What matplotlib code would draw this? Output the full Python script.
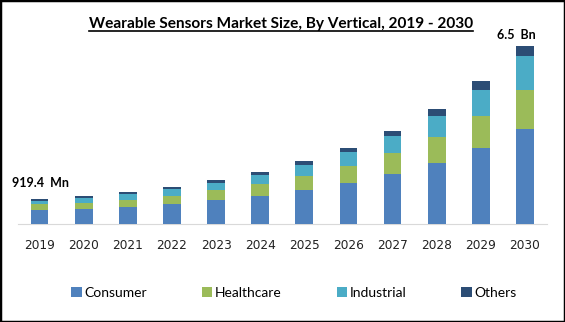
import numpy as np
import matplotlib.pyplot as plt
from matplotlib.patches import Rectangle
from matplotlib.lines import Line2D

# market size by vertical, USD Bn
years = ['2019', '2020', '2021', '2022', '2023', '2024',
         '2025', '2026', '2027', '2028', '2029', '2030']
consumer = [0.50, 0.55, 0.63, 0.73, 0.88, 1.02, 1.24, 1.50, 1.83, 2.22, 2.77, 3.46]
healthcare = [0.23, 0.21, 0.25, 0.29, 0.37, 0.44, 0.51, 0.62, 0.77, 0.95, 1.17, 1.46]
industrial = [0.12, 0.19, 0.21, 0.26, 0.26, 0.33, 0.40, 0.51, 0.62, 0.77, 0.95, 1.21]
others = [0.069, 0.07, 0.08, 0.07, 0.11, 0.12, 0.15, 0.15, 0.18, 0.26, 0.33, 0.37]

series = [('Consumer', consumer, '#4F81BD'),
          ('Healthcare', healthcare, '#9BBB59'),
          ('Industrial', industrial, '#4BACC6'),
          ('Others', others, '#2C4D75')]

W, H = 565, 322
fig = plt.figure(figsize=(W / 100, H / 100), dpi=100)
ax = fig.add_axes([17.5 / W, (H - 224) / H, 529.5 / W, 205 / H])

x = np.arange(len(years))
bottom = np.zeros(len(years))
for name, vals, col in series:
    ax.bar(x, vals, 0.4, bottom=bottom, color=col, label=name, zorder=3)
    bottom += np.array(vals)

ax.set_xlim(-0.5, len(years) - 0.5)
ax.set_ylim(0, 7.5)
ax.set_xticks(x)
ax.set_xticklabels(years, fontsize=8.7, color='#222222')
ax.tick_params(axis='x', length=0, pad=11)
ax.set_yticks([])
for s in ['top', 'left', 'right']:
    ax.spines[s].set_visible(False)
ax.spines['bottom'].set_color('#D9D9D9')

# value labels on first and last bar
fig.text(12 / W, (H - 183) / H, '919.4  Mn', ha='left', va='center',
         fontsize=9, fontweight='bold', family='Lato')
ax.text(len(years) - 1.2, bottom[-1] + 0.2, '6.5  Bn', ha='center', va='bottom',
        fontsize=9, fontweight='bold', family='Lato')

title = fig.text(281 / W, (H - 24) / H,
                 'Wearable Sensors Market Size, By Vertical, 2019 - 2030',
                 ha='center', va='center', fontsize=11.1, fontweight='bold',
                 family='Lato')

ax.legend(loc='center', bbox_to_anchor=(294 / W, (H - 293) / H),
          bbox_transform=fig.transFigure, ncol=4, frameon=False,
          prop={'family': 'Lato', 'size': 10},
          handlelength=0.75, handleheight=0.75, handletextpad=0.2,
          columnspacing=3.95)

# underline the title
fig.canvas.draw()
bb = title.get_window_extent().transformed(fig.transFigure.inverted())
fig.add_artist(Line2D([bb.x0, bb.x1], [bb.y0 + 0.5 / H, bb.y0 + 0.5 / H],
                      transform=fig.transFigure, color='black', lw=1.2))

# image border
fig.add_artist(Rectangle((0, 0), 1, 1, transform=fig.transFigure,
                         fill=False, edgecolor='black', lw=2.5))

fig.savefig('out.png', dpi=100)
